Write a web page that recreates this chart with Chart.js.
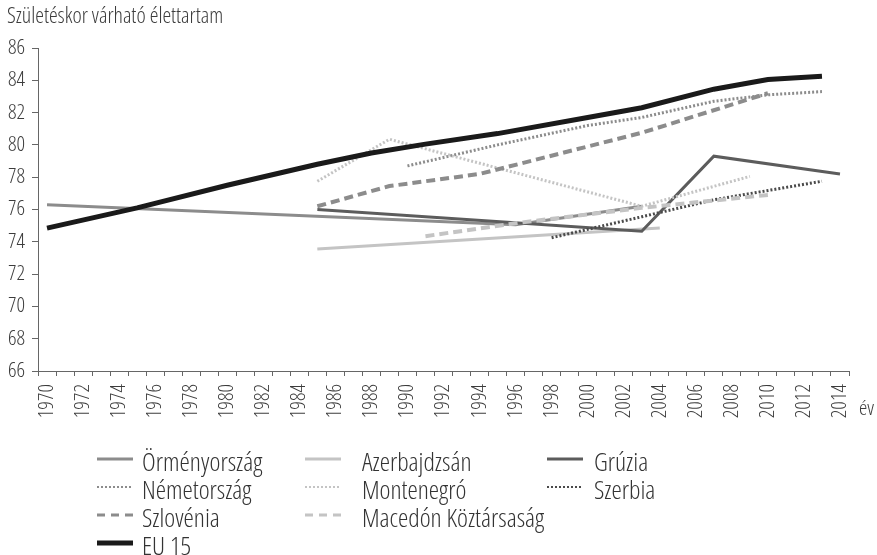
<!DOCTYPE html>
<html>
<head>
<meta charset="utf-8">
<script src="https://cdn.jsdelivr.net/npm/chart.js@4.4.1/dist/chart.umd.min.js"></script>
<style>
  html, body { margin: 0; padding: 0; background: #ffffff; }
  #wrap { position: relative; width: 877px; height: 555px; }
</style>
</head>
<body>
<div id="wrap"><canvas id="c"></canvas></div>
<script>
// ---------- data ----------
const years = ['1970','1971','1972','1973','1974','1975','1976','1977','1978','1979',
  '1980','1981','1982','1983','1984','1985','1986','1987','1988','1989',
  '1990','1991','1992','1993','1994','1995','1996','1997','1998','1999',
  '2000','2001','2002','2003','2004','2005','2006','2007','2008','2009',
  '2010','2011','2012','2013','2014'];

const yAxisTitle = 'Születéskor várható élettartam';
const xAxisTitle = 'év';

const armeniaYears = [1970, 1996, 2003];
const armeniaValues = [76.3, 75.05, 76.2];

const azerbaijanYears = [1985, 2004];
const azerbaijanValues = [73.55, 74.85];

const georgiaYears = [1985, 2003, 2007, 2014];
const georgiaValues = [76.0, 74.65, 79.3, 78.2];

const germanyYears = [1990, 1995, 2000, 2003, 2007, 2010, 2013];
const germanyValues = [78.7, 80.0, 81.2, 81.7, 82.7, 83.1, 83.3];

const montenegroYears = [1985, 1989, 2003, 2009];
const montenegroValues = [77.75, 80.35, 76.2, 78.05];

const serbiaYears = [1998, 2003, 2007, 2013];
const serbiaValues = [74.25, 75.55, 76.6, 77.75];

const sloveniaYears = [1985, 1989, 1994, 2003, 2010];
const sloveniaValues = [76.2, 77.45, 78.2, 80.75, 83.2];

const macedoniaYears = [1991, 1996, 2003, 2010];
const macedoniaValues = [74.35, 75.15, 76.1, 76.9];

const eu15Years = [1970, 1975, 1980, 1985, 1988, 1991, 1995, 2000, 2003, 2007, 2010, 2013];
const eu15Values = [74.85, 76.1, 77.5, 78.8, 79.5, 80.05, 80.7, 81.7, 82.3, 83.45, 84.05, 84.25];

const seriesNames = ['Örményország', 'Azerbajdzsán', 'Grúzia',
  'Németország', 'Montenegró', 'Szerbia',
  'Szlovénia', 'Macedón Köztársaság', 'EU 15'];

// ---------- styling ----------
const FAMILY = '"Open Sans", "Liberation Sans", sans-serif';
const WEIGHT = '300 condensed';
const MID = '#8c8c8c', LIGHT = '#c4c4c4', DARK = '#5c5c5c', DARKDOT = '#4a4a4a', BLACK = '#1a1a1a';
const DOT = [2, 2], DASH = [9, 5];

function pts(ys, vs) { return ys.map((y, i) => ({ x: String(y), y: vs[i] })); }

const styles = [
  { color: MID,     width: 3, dash: [],   legendWidth: 3, legendDash: [] },
  { color: LIGHT,   width: 3, dash: [],   legendWidth: 3, legendDash: [] },
  { color: DARK,    width: 3, dash: [],   legendWidth: 3, legendDash: [] },
  { color: MID,     width: 3, dash: DOT,  legendWidth: 2, legendDash: [2, 2] },
  { color: LIGHT,   width: 3, dash: DOT,  legendWidth: 2, legendDash: [2, 2] },
  { color: DARKDOT, width: 3, dash: DOT,  legendWidth: 2, legendDash: [2, 2] },
  { color: MID,     width: 4, dash: DASH, legendWidth: 3, legendDash: [8, 6] },
  { color: LIGHT,   width: 4, dash: DASH, legendWidth: 3, legendDash: [8, 6] },
  { color: BLACK,   width: 5, dash: [],   legendWidth: 5, legendDash: [] }
];

const seriesData = [
  pts(armeniaYears, armeniaValues),
  pts(azerbaijanYears, azerbaijanValues),
  pts(georgiaYears, georgiaValues),
  pts(germanyYears, germanyValues),
  pts(montenegroYears, montenegroValues),
  pts(serbiaYears, serbiaValues),
  pts(sloveniaYears, sloveniaValues),
  pts(macedoniaYears, macedoniaValues),
  pts(eu15Years, eu15Values)
];

const datasets = seriesNames.map((name, i) => ({
  label: name,
  data: seriesData[i],
  borderColor: styles[i].color,
  backgroundColor: styles[i].color,
  borderWidth: styles[i].width,
  borderDash: styles[i].dash,
  borderCapStyle: 'butt',
  borderJoinStyle: 'miter',
  pointRadius: 0,
  pointHoverRadius: 0,
  tension: 0,
  fill: false,
  order: i === 8 ? 0 : 9 - i
}));

// legend layout: [column, row] per series
const legendSlots = [[0,0],[1,0],[2,0],[0,1],[1,1],[2,1],[0,2],[1,2],[0,3]];
const legendLineX = [97, 305, 547];
const legendTextX = [142, 362, 594];
const legendRowY = [459, 487, 515, 543];

const extrasPlugin = {
  id: 'extras',
  afterDraw(chart) {
    const ctx = chart.ctx;
    ctx.save();
    ctx.fillStyle = '#3c3c3c';
    ctx.font = WEIGHT + ' 22px ' + FAMILY;
    ctx.textAlign = 'left';
    ctx.textBaseline = 'alphabetic';
    ctx.fillText(yAxisTitle, 7, 23);
    ctx.font = WEIGHT + ' 21px ' + FAMILY;
    ctx.fillText(xAxisTitle, 859, 415);
    ctx.font = WEIGHT + ' 26px ' + FAMILY;
    seriesNames.forEach((name, i) => {
      const [col, row] = legendSlots[i];
      const x0 = legendLineX[col], y = legendRowY[row];
      const st = styles[i];
      ctx.beginPath();
      ctx.strokeStyle = st.color;
      ctx.lineWidth = st.legendWidth;
      ctx.lineCap = 'butt';
      ctx.setLineDash(st.legendDash);
      ctx.moveTo(x0, y);
      ctx.lineTo(x0 + 36, y);
      ctx.stroke();
      ctx.setLineDash([]);
      ctx.fillStyle = '#333333';
      ctx.fillText(name, legendTextX[col], y + 12);
    });
    ctx.restore();
  }
};

new Chart(document.getElementById('c'), {
  type: 'line',
  data: { labels: years, datasets: datasets },
  options: {
    responsive: true,
    maintainAspectRatio: false,
    animation: false,
    events: [],
    layout: { padding: { left: 0, top: 48, right: 28, bottom: 0 } },
    plugins: { legend: { display: false }, tooltip: { enabled: false }, title: { display: false } },
    scales: {
      x: {
        type: 'category',
        offset: true,
        grid: { offset: true, drawOnChartArea: false, drawTicks: true, tickLength: 5, color: '#666666', lineWidth: 1 },
        border: { display: true, color: '#666666', width: 1 },
        ticks: {
          autoSkip: false,
          maxRotation: 90,
          minRotation: 90,
          padding: 8,
          color: '#3c3c3c',
          font: { family: FAMILY, size: 21, weight: WEIGHT },
          callback: function (value, index) { return index % 2 === 0 ? years[index] : ''; }
        },
        afterFit(scale) { scale.height = 184; }
      },
      y: {
        min: 66,
        max: 86,
        grid: { drawOnChartArea: false, drawTicks: true, tickLength: 6, color: '#666666', lineWidth: 1 },
        border: { display: true, color: '#666666', width: 1 },
        ticks: {
          stepSize: 2,
          padding: 7,
          color: '#3c3c3c',
          font: { family: FAMILY, size: 21, weight: WEIGHT }
        },
        afterFit(scale) { scale.width = 38; }
      }
    }
  },
  plugins: [extrasPlugin]
});
</script>
</body>
</html>
